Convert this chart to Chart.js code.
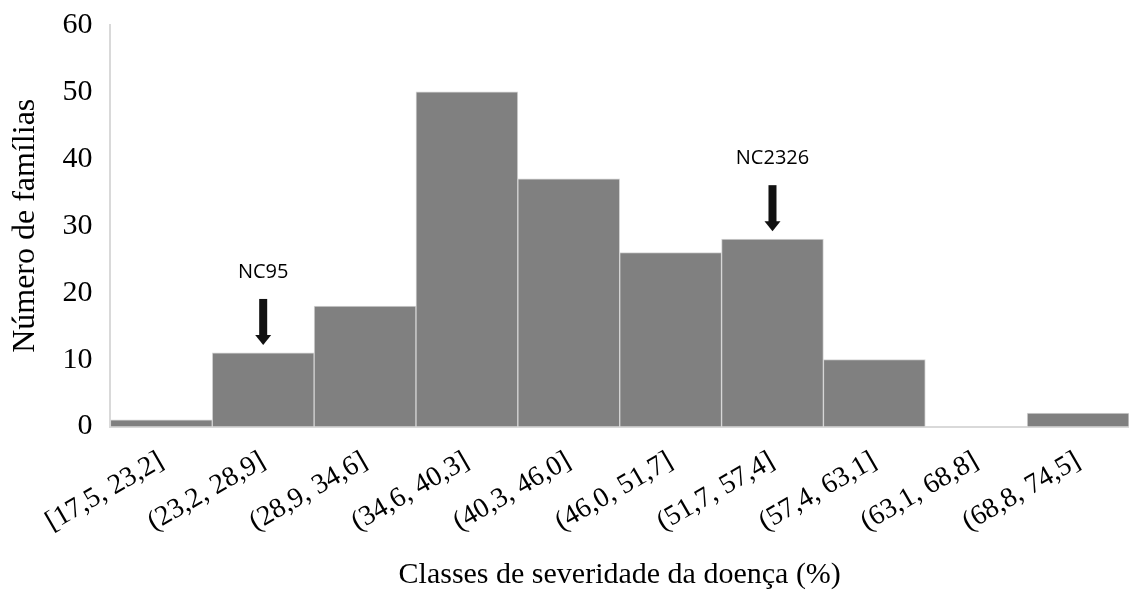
<!DOCTYPE html>
<html>
<head>
<meta charset="utf-8">
<script src="https://cdn.jsdelivr.net/npm/chart.js@4/dist/chart.umd.min.js"></script>
<style>
  html, body { margin: 0; padding: 0; background: #fff; }
  #wrap { width: 1129px; height: 594px; }
</style>
</head>
<body>
<div id="wrap"><canvas id="chart"></canvas></div>
<script>
const classes = ["[17,5, 23,2]", "(23,2, 28,9]", "(28,9, 34,6]", "(34,6, 40,3]", "(40,3, 46,0]",
  "(46,0, 51,7]", "(51,7, 57,4]", "(57,4, 63,1]", "(63,1, 68,8]", "(68,8, 74,5]"];
const familias = [1, 11, 18, 50, 37, 26, 28, 10, 0, 2];
const marked = [
  { index: 1, label: "NC95" },
  { index: 6, label: "NC2326" }
];

const serif = "'Liberation Serif', 'Times New Roman', serif";

// arrows + labels above the marked classes
const arrowPlugin = {
  id: "arrows",
  afterDatasetsDraw(chart) {
    const ctx = chart.ctx;
    const x = chart.scales.x, y = chart.scales.y;
    ctx.save();
    marked.forEach(m => {
      const cx = x.getPixelForValue(m.index);
      const top = y.getPixelForValue(familias[m.index]);
      const tip = top - 8;
      ctx.fillStyle = "#111";
      ctx.fillRect(cx - 4, tip - 46, 8, 37);
      ctx.beginPath();
      ctx.moveTo(cx - 8, tip - 10);
      ctx.lineTo(cx + 8, tip - 10);
      ctx.lineTo(cx, tip);
      ctx.closePath();
      ctx.fill();
      ctx.font = "20px 'Open Sans', 'Liberation Sans', sans-serif";
      ctx.textAlign = "center";
      ctx.textBaseline = "middle";
      ctx.fillStyle = "#000";
      ctx.fillText(m.label, cx, tip - 73);
    });
    ctx.restore();
  }
};

new Chart(document.getElementById("chart"), {
  type: "bar",
  data: {
    labels: classes,
    datasets: [{
      data: familias,
      backgroundColor: "#808080",
      borderColor: "#d4d4d4",
      borderWidth: 1,
      categoryPercentage: 1,
      barPercentage: 1
    }]
  },
  options: {
    responsive: true,
    maintainAspectRatio: false,
    animation: false,
    layout: { padding: { top: 25, right: 0, left: 6, bottom: 1 } },
    plugins: { legend: { display: false }, tooltip: { enabled: false } },
    scales: {
      x: {
        grid: { display: false, drawTicks: false },
        border: { display: true, color: "#d9d9d9", width: 2 },
        ticks: {
          color: "#000",
          font: { family: serif, size: 28 },
          minRotation: 30,
          maxRotation: 30,
          padding: 18
        },
        title: {
          display: true,
          text: "Classes de severidade da doença (%)",
          color: "#000",
          font: { family: serif, size: 30 },
          padding: { top: 0, bottom: 0 }
        }
      },
      y: {
        min: 0,
        max: 60,
        grid: { display: false, drawTicks: false },
        border: { display: true, color: "#d9d9d9", width: 2 },
        afterFit(scale) { scale.paddingTop = 0; },
        ticks: {
          stepSize: 10,
          color: "#000",
          font: { family: serif, size: 30 },
          padding: 18
        },
        title: {
          display: true,
          text: "Número de famílias",
          color: "#000",
          font: { family: serif, size: 32 },
          padding: { top: 0, bottom: 0 }
        }
      }
    }
  },
  plugins: [arrowPlugin]
});
</script>
</body>
</html>
